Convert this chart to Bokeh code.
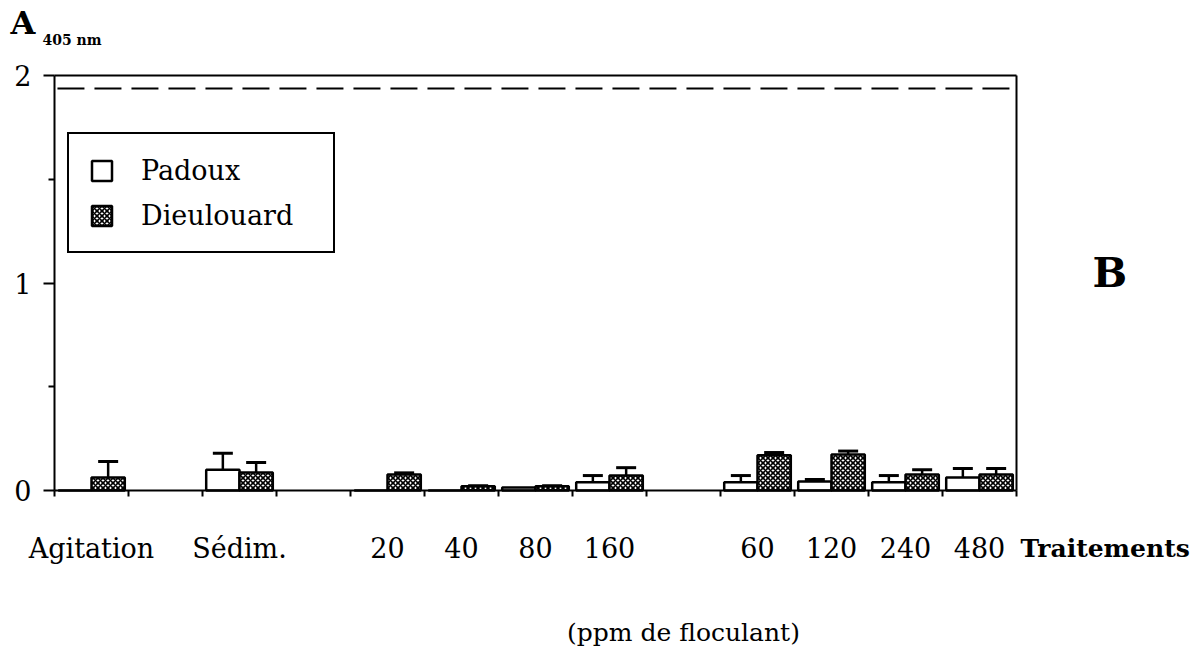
import numpy as np
from bokeh.plotting import figure
from bokeh.models import (ColumnDataSource, Range1d, FixedTicker, Label, LinearAxis,
                          Legend, LegendItem, Whisker, TeeHead)
from bokeh.embed import file_html
from bokeh.resources import INLINE

# ---- data ----
treatments = ["Agitation", "", "Sédim.", "", "20", "40", "80", "160", "", "60", "120", "240", "480"]
padoux = [0.0, None, 0.100, None, 0.0, 0.0, 0.015, 0.040, None, 0.040, 0.043, 0.040, 0.063]
padoux_sd = [0.0, None, 0.080, None, 0.0, 0.0, 0.0, 0.032, None, 0.032, 0.010, 0.032, 0.043]
dieulouard = [0.063, None, 0.087, None, 0.077, 0.020, 0.020, 0.072, None, 0.170, 0.173, 0.077, 0.077]
dieulouard_sd = [0.077, None, 0.048, None, 0.008, 0.003, 0.003, 0.038, None, 0.013, 0.017, 0.023, 0.029]
reference_level = 1.937
y_ticks = [0, 1, 2]
y_minor_ticks = [0.5, 1.5]
y_max = 2
series_names = ["Padoux", "Dieulouard"]

FONT = "DejaVu Serif"
n_slots = len(treatments)

# page layout (pixels)
W, H = 1203, 648
BOX_L, BOX_R, BOX_B, BOX_T = 54, 1016, 490, 75
sx = (BOX_R - BOX_L) / n_slots
sy = (BOX_B - BOX_T) / y_max

p = figure(output_backend="svg", toolbar_location=None, width=W, height=H,
           min_border=0,
           x_range=Range1d(-BOX_L / sx, (W - BOX_L) / sx),
           y_range=Range1d(-(H - BOX_B) / sy, (BOX_B) / sy),
           x_axis_type=None, y_axis_type=None)
p.background_fill_color = "white"
p.border_fill_color = "white"
p.grid.visible = False
p.outline_line_color = None

# axes (fixed at the box edges)
yax = LinearAxis(ticker=FixedTicker(ticks=y_ticks, minor_ticks=y_minor_ticks),
                 fixed_location=0, bounds=(0, y_max))
yax.axis_line_width = 2
yax.major_tick_line_width = 2
yax.minor_tick_line_width = 2
yax.major_tick_out = 11
yax.major_tick_in = 0
yax.minor_tick_out = 6
yax.minor_tick_in = 0
yax.major_label_standoff = 12
yax.major_label_text_font = FONT
yax.major_label_text_font_size = "27px"
yax.major_label_text_color = "black"
p.add_layout(yax, "left")

labelled = [i for i, t in enumerate(treatments) if t != ""]
centers = [i + 0.5 for i in labelled]
xax = LinearAxis(ticker=FixedTicker(ticks=centers, minor_ticks=list(range(n_slots + 1))),
                 fixed_location=0, bounds=(0, n_slots))
xax.major_label_overrides = {c: treatments[i] for c, i in zip(centers, labelled)}
xax.axis_line_width = 2
xax.major_tick_out = 0
xax.major_tick_in = 0
xax.minor_tick_out = 6
xax.minor_tick_in = 0
xax.minor_tick_line_width = 2
xax.major_label_standoff = 36
xax.major_label_text_font = FONT
xax.major_label_text_font_size = "27px"
xax.major_label_text_color = "black"
p.add_layout(xax, "below")

for side, loc, bnds in (("above", y_max, (0, n_slots)), ("right", n_slots, (0, y_max))):
    ax = LinearAxis(ticker=FixedTicker(ticks=[]), fixed_location=loc, bounds=bnds)
    ax.axis_line_width = 2
    ax.major_label_text_font_size = "0px"
    p.add_layout(ax, side)

# bars
bw = 0.45
xs = np.array(labelled, dtype=float) + 0.5
pv = np.array([padoux[i] for i in labelled], dtype=float)
ps = np.array([padoux_sd[i] for i in labelled], dtype=float)
dv = np.array([dieulouard[i] for i in labelled], dtype=float)
ds = np.array([dieulouard_sd[i] for i in labelled], dtype=float)

src_p = ColumnDataSource(dict(x=xs - bw / 2, top=pv))
src_d = ColumnDataSource(dict(x=xs + bw / 2, top=dv))
rp = p.vbar(x="x", top="top", bottom=0, width=bw, source=src_p,
            fill_color="white", line_color="black", line_width=2.5)
rd = p.vbar(x="x", top="top", bottom=0, width=bw, source=src_d,
            fill_color="white", line_color="black", line_width=2.5,
            hatch_pattern="diagonal_cross", hatch_color="black",
            hatch_scale=5, hatch_weight=1.6)

for xx, v, s in ((xs - bw / 2, pv, ps), (xs + bw / 2, dv, ds)):
    m = s > 0
    wsrc = ColumnDataSource(dict(base=xx[m], lower=v[m], upper=(v + s)[m]))
    w = Whisker(source=wsrc, base="base", lower="lower", upper="upper", dimension="height",
                line_color="black", line_width=2.5,
                upper_head=TeeHead(size=20, line_width=3, line_color="black"),
                lower_head=None, level="overlay")
    p.add_layout(w)

# dashed reference level across the box
p.segment(x0=[0.04], x1=[n_slots - 0.04], y0=[reference_level], y1=[reference_level],
          line_color="black", line_width=2, line_dash="27 10")

legend = Legend(items=[LegendItem(label=series_names[0], renderers=[rp]),
                       LegendItem(label=series_names[1], renderers=[rd])],
                location=(67, H - 253), orientation="vertical",
                border_line_color="black", border_line_width=2, border_line_alpha=1,
                background_fill_color="white", background_fill_alpha=1,
                label_text_font=FONT, label_text_font_size="27px", label_text_color="black",
                glyph_width=25, glyph_height=25, label_height=32,
                label_width=172, label_standoff=27, spacing=13,
                padding=20, margin=0)
p.add_layout(legend, "center")

# text annotations positioned in page pixels (y = wanted baseline)
def dx(px):
    return (px - BOX_L) / sx

def dy(py):
    return (BOX_B - py) / sy

def lab(x, y, text, size, bold=False, align="left"):
    shift = 0.38 * size
    p.add_layout(Label(x=dx(x), y=dy(y - shift), text=text, text_font=FONT,
                       text_font_size=f"{size}px",
                       text_font_style="bold" if bold else "normal", text_align=align,
                       text_baseline="alphabetic", text_color="black"))

lab(10, 35, "A", 32, True)
lab(42, 45, "405 nm", 14, True)
lab(1092, 288, "B", 41, True)
lab(1020, 557, "Traitements", 25, True)
lab(683, 641, "(ppm de floculant)", 25, False, "center")

open("out.html", "w").write(file_html(p, INLINE))
